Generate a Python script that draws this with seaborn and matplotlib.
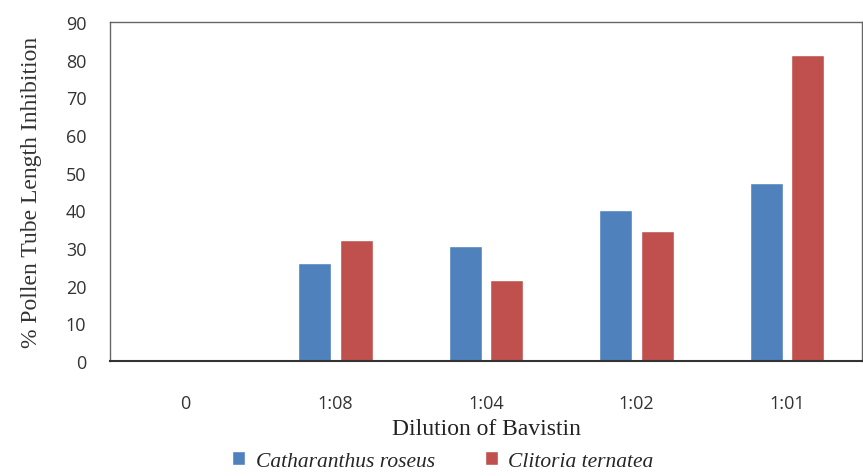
import pandas as pd
import seaborn as sns
import matplotlib.pyplot as plt

dilutions = ["0", "1:08", "1:04", "1:02", "1:01"]
catharanthus = [0, 26.0, 30.5, 40.1, 47.3]
clitoria = [0, 32.1, 21.5, 34.5, 81.2]
species = ["Catharanthus roseus", "Clitoria ternatea"]

df = pd.DataFrame({
    "dilution": dilutions * 2,
    "value": catharanthus + clitoria,
    "species": [species[0]] * len(dilutions) + [species[1]] * len(dilutions),
})

sns.set_style("white")

fig = plt.figure(figsize=(8.63, 4.77), dpi=100)
ax = fig.add_axes([110 / 863, 1 - 362 / 477, 752 / 863, 339 / 477])

sns.barplot(data=df, x="dilution", y="value", hue="species",
            palette=["#4F81BD", "#C0504D"], width=0.55, gap=0.2,
            saturation=1, ax=ax, legend=True)

ax.set_ylim(0, 90)
ax.set_xlim(-0.5, 4.5)
ax.set_yticks(range(0, 91, 10))
ax.tick_params(axis="both", length=0, labelsize=13, colors="#333333")
ax.tick_params(axis="x", pad=24)
ax.tick_params(axis="y", pad=17)
for lab in ax.get_xticklabels() + ax.get_yticklabels():
    lab.set_family("Open Sans")

for side in ["left", "top", "right"]:
    ax.spines[side].set_color("#666666")
    ax.spines[side].set_linewidth(1.0)
ax.spines["bottom"].set_color("#333333")
ax.spines["bottom"].set_linewidth(1.5)

ax.set_ylabel("% Pollen Tube Length Inhibition", family="Liberation Serif",
              fontsize=17, color="#333333", labelpad=17)
ax.set_xlabel("Dilution of Bavistin", family="Liberation Serif",
              fontsize=17, color="#222222", labelpad=4)

ax.legend(loc="center", bbox_to_anchor=(443 / 863, 15 / 477),
          bbox_transform=fig.transFigure, ncol=2,
          frameon=False, handlelength=0.6, handleheight=0.6, handletextpad=0.5,
          columnspacing=2.3,
          prop={"family": "Liberation Serif", "style": "italic", "size": 15.5})

fig.savefig("out.png", dpi=100)
